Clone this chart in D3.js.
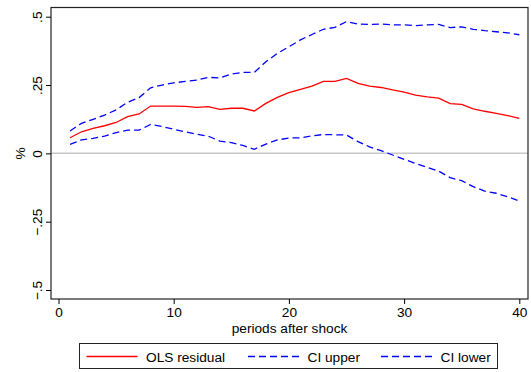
<!DOCTYPE html>
<html>
<head>
<meta charset="utf-8">
<script src="https://cdn.jsdelivr.net/npm/d3@7"></script>
<style>
body { margin: 0; background: #fff; }
text { font-family: "Liberation Sans", Arial, sans-serif; fill: #000; }
</style>
</head>
<body>
<svg id="svg1" width="531" height="372"></svg>
<script>
var svg = d3.select('#svg1');

var periods = d3.range(1, 41);
var olsResidual = [0.057, 0.079, 0.091, 0.101, 0.113, 0.134, 0.144, 0.173, 0.173, 0.173,
                   0.172, 0.168, 0.171, 0.161, 0.165, 0.165, 0.155, 0.183, 0.205, 0.222,
                   0.234, 0.246, 0.263, 0.263, 0.274, 0.256, 0.246, 0.241, 0.232, 0.224,
                   0.213, 0.207, 0.202, 0.182, 0.179, 0.163, 0.154, 0.146, 0.138, 0.128];
var ciUpper = [0.082, 0.110, 0.124, 0.140, 0.159, 0.187, 0.204, 0.240, 0.250, 0.258,
               0.263, 0.268, 0.278, 0.276, 0.290, 0.296, 0.296, 0.335, 0.366, 0.390,
               0.415, 0.435, 0.454, 0.461, 0.482, 0.473, 0.472, 0.473, 0.470, 0.470,
               0.467, 0.470, 0.472, 0.460, 0.463, 0.454, 0.449, 0.445, 0.441, 0.434];
var ciLower = [0.033, 0.049, 0.055, 0.063, 0.076, 0.085, 0.085, 0.106, 0.098, 0.088,
               0.079, 0.070, 0.063, 0.045, 0.039, 0.029, 0.015, 0.034, 0.049, 0.056,
               0.057, 0.064, 0.069, 0.068, 0.067, 0.043, 0.024, 0.010, -0.006, -0.022,
               -0.037, -0.051, -0.065, -0.089, -0.100, -0.122, -0.138, -0.146, -0.159, -0.174];

var xTicks = [0, 10, 20, 30, 40];
var yTicks = [-0.5, -0.25, 0, 0.25, 0.5];
var yTickLabels = ['\u2212.5', '\u2212.25', '0', '.25', '.5'];

var seriesNames = ['OLS residual', 'CI upper', 'CI lower'];
var seriesColors = ['#ff0000', '#0000ff', '#0000ff'];
var seriesDash = [null, '7,4', '7,4'];

var fontSize = '13.7px';
var box = {l: 51, r: 528, t: 7.5, b: 299};

var x = d3.scaleLinear().domain([0, 40]).range([58.5, 519.3]);
var y = d3.scaleLinear().domain([-0.5, 0.5]).range([290, 16.7]);

// zero line
svg.append('line')
    .attr('x1', box.l).attr('x2', box.r)
    .attr('y1', y(0)).attr('y2', y(0))
    .attr('stroke', '#c8c8c8')
    .attr('stroke-width', 1.5);

// plot frame
svg.append('rect')
    .attr('x', box.l).attr('y', box.t)
    .attr('width', box.r - box.l).attr('height', box.b - box.t)
    .attr('fill', 'none')
    .attr('stroke', '#222')
    .attr('stroke-width', 1.2);

// y axis
var yAxis = svg.append('g')
    .attr('transform', 'translate(' + box.l + ',0)')
    .call(d3.axisLeft(y).tickValues(yTicks).tickSize(5).tickFormat(function(d, i) { return yTickLabels[i]; }));
yAxis.select('.domain').remove();
yAxis.selectAll('.tick line').attr('stroke', '#000');
yAxis.selectAll('.tick text')
    .attr('transform', 'rotate(-90)')
    .attr('x', 0)
    .attr('y', -9)
    .attr('dy', 0)
    .attr('text-anchor', 'middle')
    .style('font-size', fontSize)
    .style('font-family', '"Liberation Sans", Arial, sans-serif');

// x axis
var xAxis = svg.append('g')
    .attr('transform', 'translate(0,' + box.b + ')')
    .call(d3.axisBottom(x).tickValues(xTicks).tickSize(5));
xAxis.select('.domain').remove();
xAxis.selectAll('.tick line').attr('stroke', '#000');
xAxis.selectAll('.tick text')
    .attr('y', 8)
    .style('font-size', fontSize)
    .style('font-family', '"Liberation Sans", Arial, sans-serif');

svg.append('text')
    .attr('x', (box.l + box.r) / 2)
    .attr('y', 332.5)
    .attr('text-anchor', 'middle')
    .style('font-size', fontSize)
    .text('periods after shock');

svg.append('text')
    .attr('transform', 'translate(' + [25, y(0)] + ') rotate(-90)')
    .attr('text-anchor', 'middle')
    .style('font-size', fontSize)
    .text('%');

// lines
var seriesData = [olsResidual, ciUpper, ciLower];
var line = d3.line()
    .x(function(d, i) { return x(periods[i]); })
    .y(function(d) { return y(d); });

seriesData.forEach(function(s, k) {
    svg.append('path')
        .datum(s)
        .attr('d', line)
        .attr('fill', 'none')
        .attr('stroke', seriesColors[k])
        .attr('stroke-width', 1.3)
        .attr('stroke-dasharray', seriesDash[k]);
});

// legend
var legend = svg.append('g').attr('class', 'legend');
legend.append('rect')
    .attr('x', 79.5).attr('y', 343.5)
    .attr('width', 418).attr('height', 25)
    .attr('fill', '#fff')
    .attr('stroke', '#222')
    .attr('stroke-width', 1);

var legendX = [86.5, 248, 381];
seriesNames.forEach(function(name, k) {
    legend.append('line')
        .attr('x1', legendX[k]).attr('x2', legendX[k] + 51)
        .attr('y1', 356.5).attr('y2', 356.5)
        .attr('stroke', seriesColors[k])
        .attr('stroke-width', 1.3)
        .attr('stroke-dasharray', seriesDash[k]);
    legend.append('text')
        .attr('x', legendX[k] + 59.5)
        .attr('y', 361.5)
        .style('font-size', fontSize)
        .text(name);
});
</script>
</body>
</html>
